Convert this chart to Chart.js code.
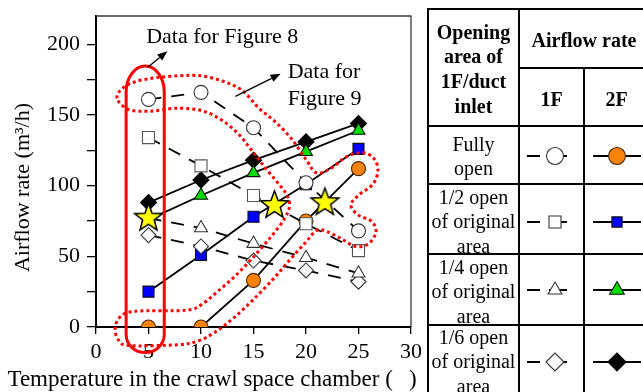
<!DOCTYPE html>
<html>
<head>
<meta charset="utf-8">
<script src="https://cdn.jsdelivr.net/npm/chart.js@4.4.1/dist/chart.umd.min.js"></script>
<style>
html,body{margin:0;padding:0;background:#fff;}
body{width:643px;height:392px;overflow:hidden;position:relative;font-family:'Liberation Serif','Times New Roman',serif;color:#000;}
#wrap{position:absolute;left:0;top:0;width:643px;height:392px;}
.ln{position:absolute;background:#000;}
.tx{position:absolute;text-align:center;font-size:20px;white-space:nowrap;}
.b{font-weight:bold;}
#keys{position:absolute;left:0;top:0;pointer-events:none;}
</style>
</head>
<body>
<div id="wrap"><canvas id="chart"></canvas></div>
<div id="table"></div>
<canvas id="keys" width="643" height="392"></canvas>
<script>
// Crawl-space chamber temperature (°C)
const temperatures = [5, 10, 15, 20, 25];

// Airflow rate (m3/h) on the 1F and 2F sides for each opening of the 1F/duct inlet
const fullyOpen1F   = [161, 166, 141, 102, 68];
const fullyOpen2F   = [0, 0, 33, 75, 112];
const halfOpen1F    = [134, 114, 93, 73, 54];
const halfOpen2F    = [25, 51, 78, 101, 126];
const quarterOpen1F = [77, 70, 59, 49, 38];
const quarterOpen2F = [76, 93, 109, 124, 139];
const sixthOpen1F   = [65, 57, 47, 40, 32];
const sixthOpen2F   = [88, 104, 118, 131, 144];

// Temperatures where 1F and 2F airflow are equal
const balanceTemps = [5, 17, 21.8];
const balanceRates = [77, 86, 88];

const xTickValues = [0, 5, 10, 15, 20, 25, 30];
const yTickLabels = [0, 50, 100, 150, 200];

const SERIF = "'Liberation Serif', 'Times New Roman', serif";
const ORANGE = '#f8820e', BLUE = '#0000ff', GREEN = '#00dc00';
const DASH = [13, 10];

function pts(values) { return temperatures.map((t, i) => ({ x: t, y: values[i] })); }

function makeStar(r, fill) {
  const s = Math.ceil(r * 2 + 4);
  const c = document.createElement('canvas');
  c.width = s; c.height = s;
  const g = c.getContext('2d');
  g.beginPath();
  for (let i = 0; i < 10; i++) {
    const rr = i % 2 ? r * 0.42 : r;
    const a = -Math.PI / 2 + i * Math.PI / 5;
    const x = s / 2 + rr * Math.cos(a), y = s / 2 + rr * Math.sin(a);
    if (i) g.lineTo(x, y); else g.moveTo(x, y);
  }
  g.closePath();
  g.fillStyle = fill; g.fill();
  g.lineWidth = 1.5; g.strokeStyle = '#000'; g.stroke();
  return c;
}
const starImg = makeStar(14.5, '#ffff00');

function lineSet(label, values, dashed, style, radius, fill, stroke) {
  return {
    label, data: pts(values), showLine: true,
    borderColor: '#000', borderWidth: 1.8, borderDash: dashed ? DASH : [],
    pointStyle: style, pointRadius: radius, pointHoverRadius: radius,
    pointBackgroundColor: fill, pointBorderColor: stroke, pointBorderWidth: 1.1,
    tension: 0
  };
}

// first entries are drawn on top
const datasets = [
  { label: 'balance', data: balanceTemps.map((t, i) => ({ x: t, y: balanceRates[i] })), showLine: false,
    pointStyle: starImg, pointRadius: 15, pointHoverRadius: 15 },
  lineSet('1F fully open', fullyOpen1F, true, 'circle', 7, '#fff', '#333'),
  lineSet('1F 1/2 open', halfOpen1F, true, 'rect', 8.5, '#fff', '#555'),
  lineSet('1F 1/4 open', quarterOpen1F, true, 'triangle', 7.5, '#fff', '#333'),
  lineSet('1F 1/6 open', sixthOpen1F, true, 'rectRot', 7.5, '#fff', '#333'),
  lineSet('2F fully open', fullyOpen2F, false, 'circle', 7, ORANGE, '#4a2a00'),
  lineSet('2F 1/2 open', halfOpen2F, false, 'rect', 7.8, BLUE, '#111'),
  lineSet('2F 1/4 open', quarterOpen2F, false, 'triangle', 7.5, GREEN, '#111'),
  lineSet('2F 1/6 open', sixthOpen2F, false, 'rectRot', 8, '#000', '#000')
];

// outline around the Figure 9 data (temperature, airflow)
const fig9Outline = [
  [2.01,161.7],[2.48,168.6],[3.73,173.5],[5.64,176.3],[7.83,177.7],[9.94,177.7],[12.04,174.0],
  [13.9,167.5],[15.48,155.0],[17.1,145.0],[18.63,133.0],[19.96,119.0],[21.0,109.0],
  [22.36,112.2],[23.89,120.6],[25.41,123.3],[26.46,119.2],[26.85,110.8],[26.37,101.0],
  [25.03,93.4],[24.27,86.4],[24.94,79.4],[26.27,74.6],[26.66,66.9],[25.89,58.5],[24.65,57.1],
  [23.31,62.7],[21.97,67.6],[21.02,68.3],[19.97,59.9],[18.53,48.1],[16.81,33.4],[14.90,18.8],
  [13.09,6.3],[11.37,-3.5],[9.75,-9.8],[7.83,-12.5],[3.25,-13.2],[2.20,-9.8],[1.82,-1.4],
  [2.29,7.0],[3.73,11.1],[8.50,11.8],[9.94,15.3],[11.46,24.4],[13.18,35.5],[14.90,48.8],
  [16.62,63.4],[17.96,76.7],[18.44,86.4],[18.06,94.8],[17.10,103.8],[15.86,115.0],[14.71,126.1],
  [13.47,137.3],[11.85,147.0],[9.94,153.3],[7.55,154.7],[5.16,152.6],[3.06,154.0]
];

const notes = {
  fig8Frame: { left: 2.87, right: 6.5, top: 184.7, bottom: -18.1 },
  fig8Arrow: { from: [4.97, 184], to: [6.8, 195.1] },
  fig9Arrow: { from: [13.28, 163.1], to: [17.58, 179.1] },
  fig8Text: { at: [4.78, 204.9], lines: ['Data for Figure 8'] },
  fig9Text: { at: [18.25, 180.5], lines: ['Data for', 'Figure 9'] }
};

function smoothClosed(ctx, p) {
  const n = p.length;
  ctx.moveTo(p[0][0], p[0][1]);
  for (let i = 0; i < n; i++) {
    const p0 = p[(i - 1 + n) % n], p1 = p[i], p2 = p[(i + 1) % n], p3 = p[(i + 2) % n];
    ctx.bezierCurveTo(p1[0] + (p2[0] - p0[0]) / 6, p1[1] + (p2[1] - p0[1]) / 6,
                      p2[0] - (p3[0] - p1[0]) / 6, p2[1] - (p3[1] - p1[1]) / 6, p2[0], p2[1]);
  }
  ctx.closePath();
}

function arrow(ctx, a, b) {
  const ang = Math.atan2(b[1] - a[1], b[0] - a[0]);
  const L = 10, W = 4;
  const bx = b[0] - L * Math.cos(ang), by = b[1] - L * Math.sin(ang);
  ctx.beginPath(); ctx.moveTo(a[0], a[1]); ctx.lineTo(bx, by);
  ctx.lineWidth = 1.3; ctx.strokeStyle = '#000'; ctx.stroke();
  ctx.beginPath(); ctx.moveTo(b[0], b[1]);
  ctx.lineTo(bx + W * Math.sin(ang), by - W * Math.cos(ang));
  ctx.lineTo(bx - W * Math.sin(ang), by + W * Math.cos(ang));
  ctx.closePath(); ctx.fillStyle = '#000'; ctx.fill();
}

const frame = {
  id: 'frame',
  beforeDatasetsDraw(chart) {
    const { ctx, chartArea: a } = chart;
    ctx.save();
    ctx.strokeStyle = '#3a3a3a'; ctx.lineWidth = 1.3;
    ctx.beginPath(); ctx.moveTo(a.left, a.top); ctx.lineTo(a.right, a.top); ctx.lineTo(a.right, a.bottom); ctx.stroke();
    ctx.restore();
  },
  afterDatasetsDraw(chart) {
    const { ctx } = chart;
    const sx = chart.scales.x, sy = chart.scales.y;
    const P = (d) => [sx.getPixelForValue(d[0]), sy.getPixelForValue(d[1])];
    ctx.save();
    // dotted outline
    ctx.beginPath();
    smoothClosed(ctx, fig9Outline.map(P));
    ctx.setLineDash([3, 3]); ctx.lineWidth = 3; ctx.strokeStyle = '#ff0000'; ctx.stroke();
    ctx.setLineDash([]);
    // solid capsule
    const f = notes.fig8Frame;
    const l = sx.getPixelForValue(f.left), r = sx.getPixelForValue(f.right);
    const t = sy.getPixelForValue(f.top), b = sy.getPixelForValue(f.bottom);
    const cx = (l + r) / 2, rx = (r - l) / 2, ryT = 26, ryB = 18;
    ctx.beginPath();
    ctx.moveTo(l, t + ryT);
    ctx.ellipse(cx, t + ryT, rx, ryT, 0, Math.PI, 2 * Math.PI);
    ctx.lineTo(r, b - ryB);
    ctx.ellipse(cx, b - ryB, rx, ryB, 0, 0, Math.PI);
    ctx.closePath();
    ctx.lineWidth = 3; ctx.strokeStyle = '#ff0000'; ctx.stroke();
    // arrows
    arrow(ctx, P(notes.fig8Arrow.from), P(notes.fig8Arrow.to));
    arrow(ctx, P(notes.fig9Arrow.from), P(notes.fig9Arrow.to));
    // notes
    ctx.fillStyle = '#000'; ctx.font = '22px ' + SERIF; ctx.textAlign = 'left'; ctx.textBaseline = 'middle';
    [notes.fig8Text, notes.fig9Text].forEach(n => {
      const p = P(n.at);
      n.lines.forEach((s, i) => ctx.fillText(s, p[0], p[1] + i * 27));
    });
    ctx.restore();
  },
  afterDraw(chart) {
    const { ctx, chartArea: a } = chart;
    ctx.save();
    ctx.fillStyle = '#000'; ctx.textAlign = 'center'; ctx.textBaseline = 'middle';
    ctx.font = '22px ' + SERIF;
    ctx.translate(23, (a.top + a.bottom) / 2 + 16);
    ctx.rotate(-Math.PI / 2);
    ctx.fillText('Airflow rate (m\u00b3/h)', 0, 0);
    ctx.restore();
    ctx.save();
    ctx.fillStyle = '#000'; ctx.textAlign = 'center'; ctx.textBaseline = 'middle';
    ctx.font = '23px ' + SERIF;
    ctx.fillText('Temperature in the crawl space chamber (\u2002\u2009)', a.left + 116, 380);
    ctx.restore();
  }
};

function zeroPad(axis) { axis.paddingTop = 0; axis.paddingBottom = 0; axis.paddingLeft = 0; axis.paddingRight = 0; }

new Chart(document.getElementById('chart'), {
  type: 'line',
  data: { datasets },
  plugins: [frame],
  options: {
    responsive: true, maintainAspectRatio: false, animation: false,
    layout: { padding: { left: 0, top: 11, right: 232, bottom: 0 } },
    plugins: { legend: { display: false }, tooltip: { enabled: false } },
    scales: {
      x: {
        type: 'linear', min: 0, max: 30,
        afterBuildTicks: axis => { axis.ticks = xTickValues.map(v => ({ value: v })); },
        ticks: { color: '#000', font: { family: SERIF, size: 22 }, padding: 5, maxRotation: 0, autoSkip: false },
        grid: { drawOnChartArea: false, drawTicks: true, tickLength: 7, color: '#000', lineWidth: 1.3 },
        border: { color: '#000', width: 2 },
        afterFit: axis => { axis.height = 65; zeroPad(axis); }
      },
      y: {
        type: 'linear', min: 0, max: 220,
        ticks: { stepSize: 25, includeBounds: false, color: '#000', font: { family: SERIF, size: 22 }, padding: 7,
                 callback: v => yTickLabels.includes(v) ? String(v) : '' },
        grid: { drawOnChartArea: false, drawTicks: true, tickLength: 9, color: '#000', lineWidth: 1.3 },
        border: { color: '#000', width: 2 },
        afterFit: axis => { axis.width = 96; zeroPad(axis); }
      }
    }
  }
});

// ---- key table ----
const rows = [
  { text: ['Fully', 'open'], mid: 156, style: 'circle', r1: 8.5, r2: 8.5, fill2: ORANGE, stroke2: '#4a2a00', top: 132, lh: 24 },
  { text: ['1/2 open', 'of original', 'area'], mid: 222, style: 'rect', r1: 8.5, r2: 7.2, fill2: BLUE, stroke2: '#111', top: 184.75, lh: 24.5 },
  { text: ['1/4 open', 'of original', 'area'], mid: 290, style: 'triangle', r1: 8, r2: 8.5, fill2: GREEN, stroke2: '#111', top: 254.75, lh: 24.5 },
  { text: ['1/6 open', 'of original', 'area'], mid: 362, style: 'rectRot', r1: 9, r2: 9, fill2: '#000', stroke2: '#000', top: 324.75, lh: 24.5 }
];

const tbl = document.getElementById('table');
function add(cls, css, html) {
  const d = document.createElement('div');
  d.className = cls; d.style.cssText = css;
  if (html) d.innerHTML = html;
  tbl.appendChild(d);
}
add('tx b', 'left:430px;width:87px;top:19.6px;line-height:24.8px;', 'Opening<br>area of<br>1F/duct<br>inlet');
add('tx b', 'left:519px;width:130px;top:27px;line-height:26px;', 'Airflow rate');
add('tx b', 'left:519px;width:65px;top:86px;line-height:26px;', '1F');
add('tx b', 'left:584px;width:65px;top:86px;line-height:26px;', '2F');
rows.forEach(r => add('tx', `left:430px;width:87px;top:${r.top}px;line-height:${r.lh}px;`, r.text.join('<br>')));

const T = 2.6;
[428, 519].forEach(x => add('ln', `left:${x - T / 2}px;top:${9 - T / 2}px;width:${T}px;height:400px;`));
add('ln', `left:${584 - T / 2}px;top:68px;width:${T}px;height:340px;`);
add('ln', `left:${428 - T / 2}px;top:${9 - T / 2}px;width:230px;height:${T}px;`);
add('ln', `left:519px;top:${68 - T / 2}px;width:130px;height:${T}px;`);
[126, 184, 254, 325].forEach(y => add('ln', `left:428px;top:${y - T / 2}px;width:230px;height:${T}px;`));

function drawMarker(g, style, x, y, r, fill, stroke, lw) {
  g.save(); g.beginPath();
  if (style === 'circle') g.arc(x, y, r, 0, Math.PI * 2);
  else if (style === 'rect') { const s = r * Math.SQRT1_2; g.rect(x - s, y - s, 2 * s, 2 * s); }
  else if (style === 'triangle') {
    g.moveTo(x, y - r);
    g.lineTo(x + r * Math.sin(2 * Math.PI / 3), y - r * Math.cos(2 * Math.PI / 3));
    g.lineTo(x + r * Math.sin(4 * Math.PI / 3), y - r * Math.cos(4 * Math.PI / 3));
    g.closePath();
  } else { g.moveTo(x - r, y); g.lineTo(x, y - r); g.lineTo(x + r, y); g.lineTo(x, y + r); g.closePath(); }
  g.fillStyle = fill; g.fill(); g.lineWidth = lw; g.strokeStyle = stroke; g.stroke(); g.restore();
}

const kc = document.getElementById('keys').getContext('2d');
rows.forEach(r => {
  const y = r.mid;
  kc.strokeStyle = '#000'; kc.lineWidth = 1.8;
  kc.beginPath(); kc.moveTo(527, y); kc.lineTo(540, y); kc.moveTo(549, y); kc.lineTo(567, y); kc.stroke();
  drawMarker(kc, r.style, 555, y, r.r1, '#fff', '#333', 1.1);
  kc.beginPath(); kc.moveTo(593, y); kc.lineTo(641, y); kc.stroke();
  drawMarker(kc, r.style, 617, y, r.r2, r.fill2, r.stroke2, 1.1);
});
</script>
</body>
</html>
